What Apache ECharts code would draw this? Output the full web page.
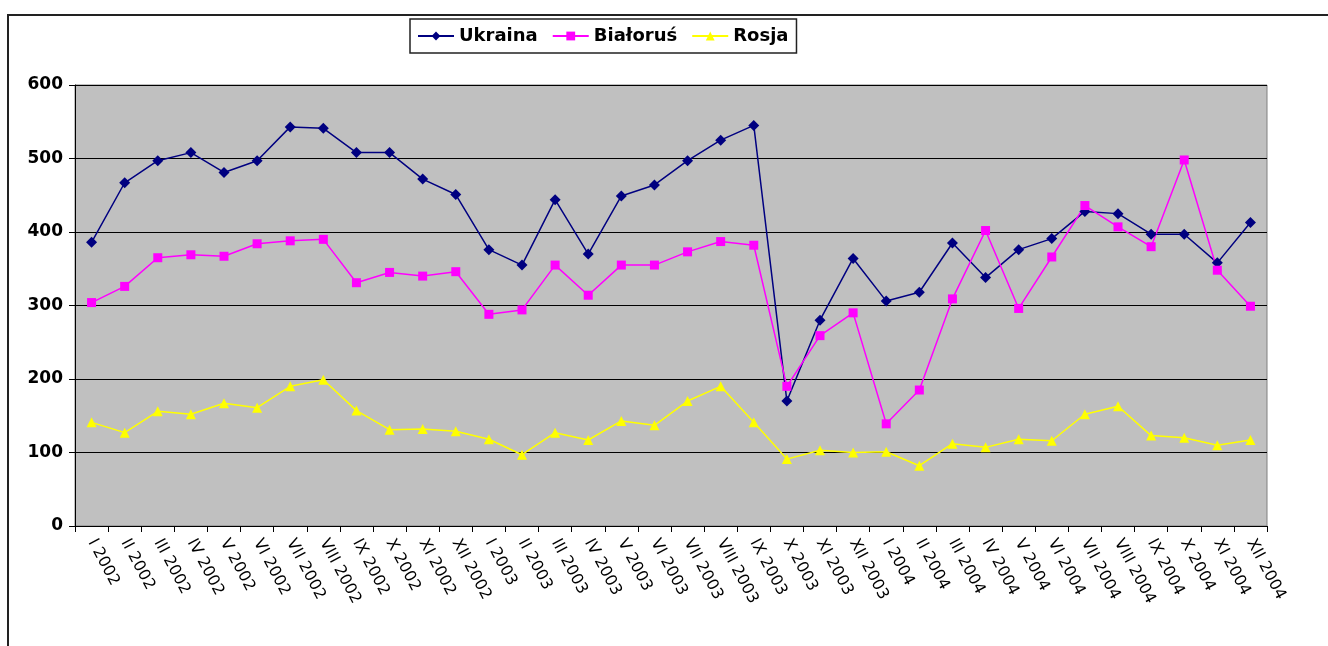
<!DOCTYPE html>
<html>
<head>
<meta charset="utf-8">
<script src="https://cdn.jsdelivr.net/npm/echarts@6/dist/echarts.min.js"></script>
<style>
html,body{margin:0;padding:0;background:#fff;}
#chart{width:1328px;height:646px;}
</style>
</head>
<body>
<div id="chart"></div>
<script>
const categories = [
  'I 2002','II 2002','III 2002','IV 2002','V 2002','VI 2002','VII 2002','VIII 2002','IX 2002','X 2002','XI 2002','XII 2002',
  'I 2003','II 2003','III 2003','IV 2003','V 2003','VI 2003','VII 2003','VIII 2003','IX 2003','X 2003','XI 2003','XII 2003',
  'I 2004','II 2004','III 2004','IV 2004','V 2004','VI 2004','VII 2004','VIII 2004','IX 2004','X 2004','XI 2004','XII 2004'
];
const ukraina = [386,467,497,508,481,497,543,541,508,508,472,451,
                 376,355,444,370,449,464,497,525,545,170,280,364,
                 306,318,385,338,376,391,428,425,397,397,358,413];
const bialorus = [304,326,365,369,367,384,388,390,331,345,340,346,
                  288,294,355,314,355,355,373,387,382,190,259,290,
                  139,185,309,402,296,366,436,407,380,498,348,299];
const rosja = [141,127,156,152,167,161,190,199,157,131,132,129,
               118,97,127,117,143,137,170,190,141,91,103,100,
               101,82,112,107,118,116,152,163,123,120,110,117];
const seriesNames = ['Ukraina','Białoruś','Rosja'];
const yTicks = {min:0, max:600, interval:100};

const chart = echarts.init(document.getElementById('chart'), null, {renderer:'canvas'});
const mk = (name, data, color, symbol, size) => ({
  name, type:'line', data, symbol, symbolSize:size, showSymbol:true,
  lineStyle:{color, width:1.5}, itemStyle:{color, borderWidth:0},
  emphasis:{disabled:true}, animation:false
});
chart.setOption({
  backgroundColor:'#ffffff',
  animation:false,
  graphic:[{type:'rect', shape:{x:8,y:15,width:1400,height:700}, style:{fill:'none', stroke:'#222', lineWidth:2}, silent:true}],
  legend:{
    left:410, top:19,
    padding:[8,8,8,7],
    itemGap:14, itemWidth:36, itemHeight:11,
    borderColor:'#222', borderWidth:1.5,
    textStyle:{fontFamily:'DejaVu Sans', fontWeight:'bold', fontSize:18, color:'#000'},
    data:seriesNames
  },
  grid:{left:75, right:61, top:85, bottom:120, show:true, backgroundColor:'#C0C0C0', borderColor:'#808080', borderWidth:1},
  xAxis:{
    type:'category', data:categories, boundaryGap:true,
    axisLine:{lineStyle:{color:'#000', width:1}},
    axisTick:{show:true, length:6, lineStyle:{color:'#000'}},
    axisLabel:{interval:0, rotate:-62, margin:14, fontFamily:'DejaVu Sans', fontSize:16, color:'#000'}
  },
  yAxis:{
    type:'value', min:yTicks.min, max:yTicks.max, interval:yTicks.interval,
    axisLine:{show:true, lineStyle:{color:'#000', width:1}},
    axisTick:{show:true, length:6, lineStyle:{color:'#000'}},
    axisLabel:{margin:12, fontFamily:'DejaVu Sans', fontWeight:'bold', fontSize:17, color:'#000'},
    splitLine:{show:true, lineStyle:{color:'#000', width:1}}
  },
  series:[
    mk(seriesNames[0], ukraina, '#000080', 'diamond', 11),
    mk(seriesNames[1], bialorus, '#FF00FF', 'rect', 9),
    mk(seriesNames[2], rosja, '#FFFF00', 'triangle', 10)
  ]
});
</script>
</body>
</html>
